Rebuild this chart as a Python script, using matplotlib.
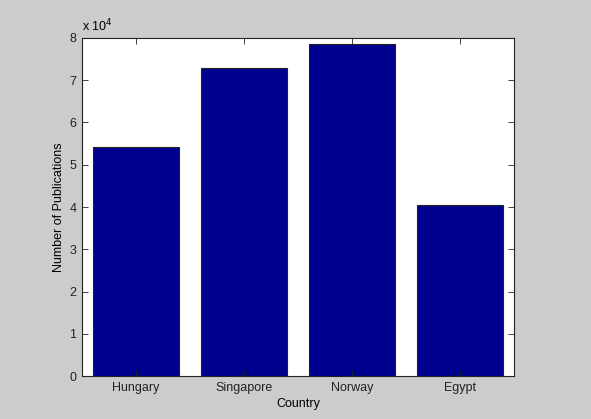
import matplotlib
matplotlib.use("Agg")
import matplotlib.pyplot as plt
from matplotlib.ticker import FuncFormatter, MultipleLocator

countries = ["Hungary", "Singapore", "Norway", "Egypt"]
publications = [54300, 72900, 78500, 40400]

plt.rcParams['font.family'] = ['Liberation Sans', 'DejaVu Sans']

fig = plt.figure(figsize=(5.91, 4.19), dpi=100, facecolor='#cccccc')
ax = fig.add_axes([82/591, 43/419, 432/591, 338/419])
ax.set_facecolor('white')

x = list(range(1, len(countries) + 1))
ax.bar(x, publications, width=0.8, color='#00008f', edgecolor='#222222', linewidth=0.8)

ax.set_xlim(0.5, len(countries) + 0.5)
ax.set_ylim(0, 80000)
ax.set_xticks(x)
ax.set_xticklabels(countries)
ax.yaxis.set_major_locator(MultipleLocator(10000))
ax.yaxis.set_major_formatter(FuncFormatter(lambda v, p: f"{v/1e4:g}"))

ax.tick_params(direction='in', top=True, right=True, length=4, width=0.6,
               labelsize=9, colors='#222222', pad=4)
for s in ax.spines.values():
    s.set_linewidth(0.8)
    s.set_color('#222222')

ax.set_xlabel("Country", fontsize=9, labelpad=3)
ax.set_ylabel("Number of Publications", fontsize=9, labelpad=3)
ax.text(0.0, 1.01, r"x 10$^{4}$", transform=ax.transAxes, fontsize=9,
        ha='left', va='bottom')

fig.savefig("out.png", dpi=100, facecolor=fig.get_facecolor())
